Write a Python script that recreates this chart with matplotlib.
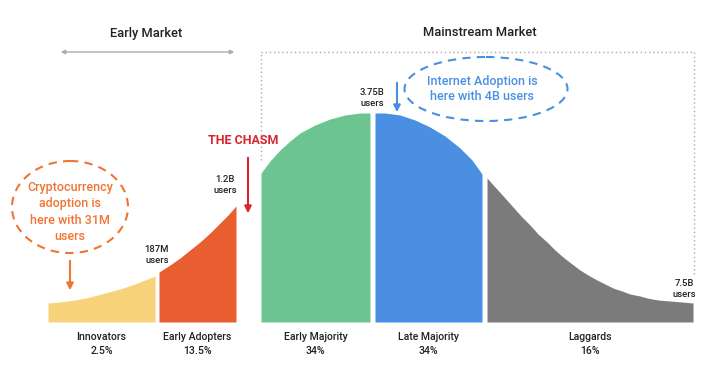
import matplotlib
matplotlib.use("Agg")
import matplotlib.pyplot as plt
from matplotlib.patches import Ellipse

plt.rcParams["font.family"] = ["Roboto", "DejaVu Sans"]

# adoption curve: position along the curve and height
segments = ["Innovators", "Early Adopters", "Early Majority", "Late Majority", "Laggards"]
shares = ["2.5%", "13.5%", "34%", "34%", "16%"]
colors = ["#F8D17B", "#E95E31", "#6CC491", "#4A8FE1", "#7B7B7B"]

innov_x = [48, 60, 75, 90, 105, 120, 135, 145, 155]
innov_h = [19, 20, 22, 25, 29, 33, 38, 42, 46]
adopt_x = [159, 170, 180, 190, 200, 210, 220, 228, 236]
adopt_h = [50, 57, 64, 72, 80, 89, 99, 107, 116]
early_maj_x = [261, 270, 280, 290, 300, 315, 330, 345, 360, 370]
early_maj_h = [149, 161, 172, 181, 189, 197, 203, 207, 209, 209]
late_maj_x = [375, 385, 400, 415, 430, 445, 460, 472, 482]
late_maj_h = [209, 209, 207, 202, 195, 186, 174, 162, 148]
lag_x = [487, 495, 505, 513, 522, 530, 538, 547, 555, 563, 572, 580, 588, 597,
         605, 613, 622, 630, 640, 647, 658, 670, 682, 693]
lag_h = [144, 135, 124, 115, 105, 97, 88, 80, 72, 65, 58, 52, 47, 42,
         38, 34, 31, 28, 26, 24, 22, 21, 20, 19]

curve_x = [innov_x, adopt_x, early_maj_x, late_maj_x, lag_x]
curve_h = [innov_h, adopt_h, early_maj_h, late_maj_h, lag_h]

user_labels = ["187M\nusers", "1.2B\nusers", "3.75B\nusers", "7.5B\nusers"]

BASE = 322

fig = plt.figure(figsize=(7.19, 3.73), dpi=100)
ax = fig.add_axes([0, 0, 1, 1])
ax.set_xlim(0, 719)
ax.set_ylim(373, 0)
ax.axis("off")

for xs, hs, col, name, pct in zip(curve_x, curve_h, colors, segments, shares):
    tops = [BASE - h for h in hs]
    ax.fill_between(xs, tops, BASE, color=col, lw=0)
    cx = (xs[0] + xs[-1]) / 2
    ax.text(cx, 337, name, ha="center", va="center", fontsize=7.6, color="#222",
            fontweight="medium")
    ax.text(cx, 351, pct, ha="center", va="center", fontsize=7.6, color="#222",
            fontweight="medium")

# user counts at the segment boundaries
label_pos = [(157, 255), (225, 185), (372, 98), (684, 289)]
for (lx, ly), txt in zip(label_pos, user_labels):
    ax.text(lx, ly, txt, ha="center", va="center", fontsize=6.8, color="#222",
            linespacing=1.35, fontweight="medium")

# market headings
ax.text(146, 33, "Early Market", ha="center", va="center", fontsize=9.3, color="#222",
        fontweight="medium")
ax.text(480, 33, "Mainstream Market", ha="center", va="center", fontsize=9.3, color="#222",
        fontweight="medium")
ax.annotate("", xy=(58, 52), xytext=(237, 52),
            arrowprops=dict(arrowstyle="<|-|>", color="#AAAAAA", lw=1, mutation_scale=6))
dot = dict(color="#AAAAAA", lw=1, ls=(0, (1, 2)))
ax.plot([261, 261], [160, 52], **dot)
ax.plot([261, 694], [52, 52], **dot)
ax.plot([694, 694], [52, 276], **dot)

# the chasm
ax.text(243, 140, "THE CHASM", ha="center", va="center", fontsize=9,
        color="#D9262E", fontweight="bold")
ax.annotate("", xy=(248, 216), xytext=(248, 155),
            arrowprops=dict(arrowstyle="-|>", color="#D9262E", lw=1.5, mutation_scale=10))

# crypto callout
orange = "#F07433"
ax.add_patch(Ellipse((70, 207), 116, 92, fill=False, ec=orange, lw=1.5, ls=(0, (4, 3))))
ax.text(70, 212, "Cryptocurrency\nadoption is\nhere with 31M\nusers", ha="center", va="center",
        fontsize=9, color=orange, linespacing=1.3, fontweight="medium")
ax.annotate("", xy=(70, 293), xytext=(70, 258),
            arrowprops=dict(arrowstyle="-|>", color=orange, lw=1.5, mutation_scale=10))

# internet callout
blue = "#4A90E2"
ax.add_patch(Ellipse((486, 89), 163, 64, fill=False, ec=blue, lw=1.5, ls=(0, (4, 3))))
ax.text(482, 89, "Internet Adoption is\nhere with 4B users", ha="center", va="center",
        fontsize=9, color=blue, linespacing=1.3, fontweight="medium")
ax.annotate("", xy=(397, 115), xytext=(397, 80),
            arrowprops=dict(arrowstyle="-|>", color=blue, lw=1.5, mutation_scale=10))

fig.savefig("out.png", dpi=100)
